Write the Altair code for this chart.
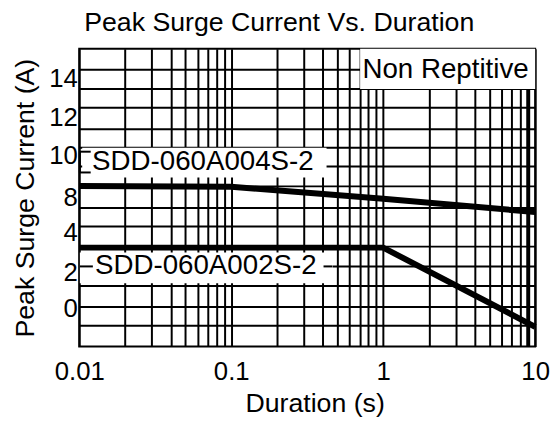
import altair as alt
import pandas as pd

# ---- data ----
series_names = ["SDD-060A004S-2", "SDD-060A002S-2"]
durations_004 = [0.01, 0.1, 1, 10]
current_004 = [8.54, 8.5, 7.83, 6.33]
durations_002 = [0.01, 1, 10]
current_002 = [3.25, 3.25, -0.95]

# ---- axes ----
y_tick_values = [14, 12, 10, 8, 4, 2, 0]
y_scale_domain = [-2, 0, 2, 4, 8, 10, 12, 14, 15.5]
y_scale_range = [301, 263, 226, 186, 150, 108, 70, 30, 0]
y_grid_values = [14.44, 13.47, 12.52, 11.41, 10.42, 9.48, 8.52, 6.78, 4.7, 3.3, 2.3, 1.26, 0.11, -0.89]
x_tick_values = [round(m * 10 ** e, 4) for e in (-2, -1, 0) for m in range(1, 10)] + [10]
x_tick_labels = {0.01: "0.01", 0.1: "0.1", 1: "1", 10: "10"}

# ---- annotations ----
note_text = ["Non Reptitive", "SDD-060A004S-2", "SDD-060A002S-2"]
note_x = [0.73, 0.01215, 0.0127]
note_y = [14.45, 9.71, 2.3]
box_x = [0.705, 0.01046, 0.0101]
box_x2 = [10, 0.424, 0.465]
box_y = [15.5, 10.42, 3.0]
box_y2 = [13.47, 8.95, 1.4]
leader_x = [0.0101, 0.405, 0.0101, 0.0101]
leader_x2 = [0.0123, 0.463, 0.0119, 0.0119]
leader_y = [2.3, 2.3, 10.21, 9.19]
bracket_x = [0.0101]
bracket_y = [10.21]
bracket_y2 = [9.19]
thick_rule_x = [9]

lines_df = pd.DataFrame({
    "duration": durations_004 + durations_002,
    "current": current_004 + current_002,
    "series": [series_names[0]] * len(durations_004) + [series_names[1]] * len(durations_002),
})
hgrid_df = pd.DataFrame({"current": y_grid_values})
thick_df = pd.DataFrame({"duration": thick_rule_x})
box_df = pd.DataFrame({"duration": box_x, "duration2": box_x2, "current": box_y, "current2": box_y2})
note_df = pd.DataFrame({"duration": note_x, "current": note_y, "text": note_text})
leader_df = pd.DataFrame({"duration": leader_x, "duration2": leader_x2, "current": leader_y})
bracket_df = pd.DataFrame({"duration": bracket_x, "current": bracket_y, "current2": bracket_y2})

label_expr = " : ".join(f"datum.value == {k} ? '{v}'" for k, v in x_tick_labels.items()) + " : ''"

x_scale = alt.Scale(type="log", domain=[0.01, 10], nice=False)
y_scale = alt.Scale(type="linear", domain=y_scale_domain, range=y_scale_range, zero=False, nice=False)

x_axis = alt.Axis(
    values=x_tick_values, labelExpr=label_expr, grid=True, gridColor="black", gridWidth=2,
    gridOpacity=1, ticks=False, domain=False, labelFontSize=26, labelColor="black",
    labelPadding=12, labelFlush=False, labelOverlap=False, labelBound=False,
    title="Duration (s)", titleFontSize=27, titleFontWeight="normal", titleColor="black",
    titlePadding=7, titleX=238,
)
y_axis = alt.Axis(
    values=y_tick_values, grid=False, ticks=False, domain=False, labelFontSize=26,
    labelColor="black", labelPadding=2, labelOverlap=False,
    title="Peak Surge Current (A)", titleFontSize=27, titleFontWeight="normal",
    titleColor="black", titlePadding=9,
)

X = alt.X("duration:Q", scale=x_scale, axis=x_axis)
Y = alt.Y("current:Q", scale=y_scale, axis=y_axis)

hgrid = alt.Chart(hgrid_df).mark_rule(color="black", strokeWidth=2).encode(y=Y)
thick = alt.Chart(thick_df).mark_rule(color="black", strokeWidth=4).encode(x=X)
lines = alt.Chart(lines_df).mark_line(color="black", strokeWidth=6).encode(
    x=X, y=Y, detail="series:N"
)
boxes = alt.Chart(box_df).mark_rect(fill="white").encode(
    x=X, x2="duration2:Q", y=Y, y2="current2:Q"
)
notes = alt.Chart(note_df).mark_text(
    align="left", baseline="middle", fontSize=28, color="black"
).encode(x=X, y=Y, text="text:N")
leaders = alt.Chart(leader_df).mark_rule(color="black", strokeWidth=2).encode(
    x=X, x2="duration2:Q", y=Y
)
bracket = alt.Chart(bracket_df).mark_rule(color="black", strokeWidth=2).encode(
    x=X, y=Y, y2="current2:Q"
)

chart = alt.layer(hgrid, thick, lines, boxes, notes, leaders, bracket).properties(
    width=461,
    height=301,
    title=alt.Title(
        "Peak Surge Current Vs. Duration", fontSize=27, fontWeight="normal",
        anchor="start", frame="group", dx=5, offset=10, color="black",
    ),
    autosize=alt.AutoSizeParams(type="none"),
    padding={"left": 72, "top": 39, "right": 16, "bottom": 71},
).configure(font="Liberation Sans").configure_view(stroke="black", strokeWidth=2)

chart.save("out.html", embed_options={"renderer": "svg", "actions": False})
